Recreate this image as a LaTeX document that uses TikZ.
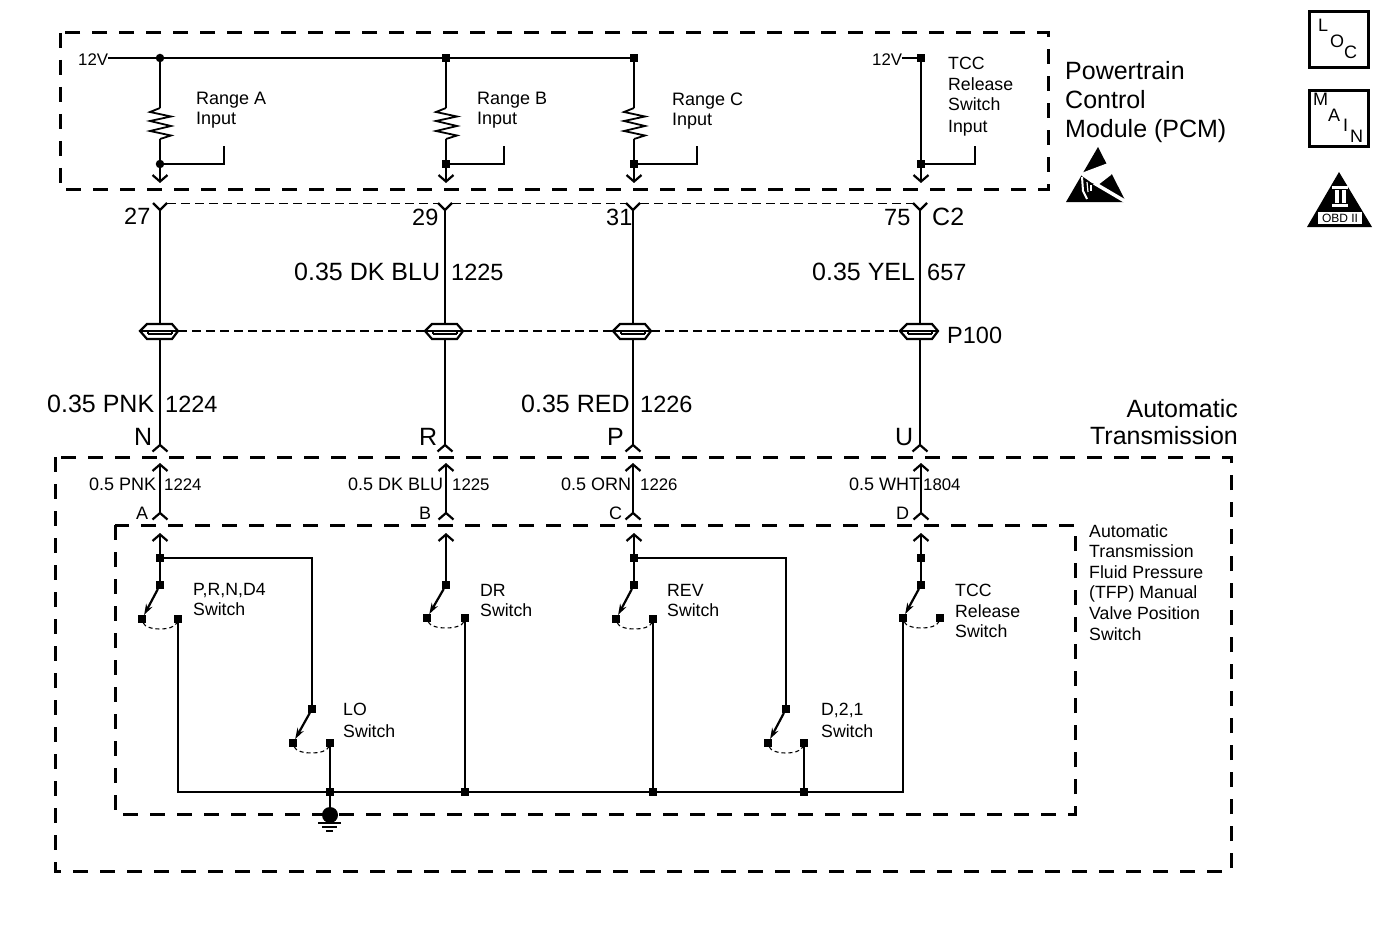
\documentclass[tikz,border=0pt]{standalone}
\usepackage{fontspec}
\setmainfont{Liberation Sans}
\usetikzlibrary{arrows.meta}
\tikzset{
  wire/.style={line width=2.2pt},
  modbox/.style={line width=3pt, dash pattern=on 15pt off 12pt},
  linkdash/.style={line width=1.5pt, dash pattern=on 9pt off 5pt},
  pindash/.style={line width=1pt, dash pattern=on 9pt off 5pt},
  swdash/.style={line width=1.1pt, dash pattern=on 4pt off 3pt},
  dot/.style={fill, rectangle, inner sep=0pt, minimum size=7.5pt},
  rdot/.style={fill, circle, inner sep=0pt, minimum size=8.5pt},
  big/.style={inner sep=0pt, anchor=base west, font=\fontsize{25}{29}\selectfont, align=left},
  numbig/.style={inner sep=0pt, anchor=base west, font=\fontsize{23.5}{29}\selectfont},
  small/.style={inner sep=0pt, anchor=base west, font=\fontsize{18}{20.6}\selectfont, align=left},
  numsmall/.style={inner sep=0pt, anchor=base west, font=\fontsize{16.8}{20.6}\selectfont},
  blok/.style={inner sep=0pt, anchor=north west, font=\fontsize{17.7}{20.6}\selectfont, align=left},
  iconbox/.style={line width=3pt},
  swarrow/.style={wire, -{Stealth[length=11pt, width=7pt]}},
  ytop/.pic={
    \draw [wire] (-7, -7) -- (0, 0) -- (7, -7);
    \coordinate (-l) at (-7, -7);
    \coordinate (-r) at (7, -7);
    \coordinate (-c) at (0, 0);
  },
  npin/.pic={
    \draw [wire] (-7.5, 6.5) -- (0, 0) -- (7.5, 6.5);
    \coordinate (-c) at (0, 0);
  },
  inline/.pic={
    \draw [wire] (-13, -7) -- (12, -7) -- (18, 0) -- (12, 8) -- (-13, 8) -- (-20, 0) -- cycle;
    \draw [wire] (-20, 0) -- (18, 0);
    \draw [wire] (-12, 3) -- (12, 3);
    \draw [wire] (-12, 0) -- (-12, 3);
    \draw [wire] (12, 0) -- (12, 3);
    \coordinate (-t) at (0, -7);
    \coordinate (-b) at (0, 8);
    \coordinate (-l) at (-20, 0);
    \coordinate (-r) at (18, 0);
  },
  resistor/.pic={
    \draw [line width=1.8pt] (0, 0) -- (-10, 4) -- (11, 8.5) -- (-10, 13) -- (11, 18) -- (-10, 23) -- (11, 27.5) -- (0, 31);
    \coordinate (-t) at (0, 0);
    \coordinate (-b) at (0, 31);
  }
}
\begin{document}
\begin{tikzpicture}[x=1pt, y=-1pt, >={Straight Barb[length=6.5pt, width=15pt, line width=2.2pt]}]
    \useasboundingbox (0, 0) rectangle (1380, 936);
    % module outlines
    \draw [modbox] (60, 33) rectangle (1048, 189);
    \draw [modbox] (55, 457) rectangle (1231, 871);
    \draw [modbox] (115, 525) rectangle (1075, 814);
    % PCM supply rail
    \node [numsmall] (v1) at (78, 66) {12V};
    \node [rdot] (ja) at (160, 58) {};
    \node [dot] (jb) at (446, 58) {};
    \node [dot] (jc) at (634, 58) {};
    \draw [wire] (v1.east |- ja) -- (ja);
    \draw [wire] (ja) -- (jb);
    \draw [wire] (jb) -- (jc);
    \node [numsmall] (v2) at (872, 66) {12V};
    \node [dot] (jd) at (921, 58) {};
    \draw [wire] (v2.east |- jd) -- (jd);
    % PCM inputs
    \pic (ra) at (160, 108) {resistor};
    \pic (rb) at (446, 108) {resistor};
    \pic (rc) at (634, 108) {resistor};
    \node [rdot] (ia) at (160, 164) {};
    \node [dot] (ib) at (446, 164) {};
    \node [dot] (ic) at (634, 164) {};
    \node [dot] (id) at (921, 164) {};
    \coordinate (ea) at (224, 146);
    \coordinate (eb) at (504, 146);
    \coordinate (ec) at (697, 146);
    \coordinate (ed) at (975, 146);
    \coordinate (oa) at (160, 183);
    \coordinate (ob) at (446, 183);
    \coordinate (oc) at (634, 183);
    \coordinate (od) at (921, 183);
    \draw [wire] (ja) -- (ra-t);
    \draw [wire] (jb) -- (rb-t);
    \draw [wire] (jc) -- (rc-t);
    \draw [wire] (ra-b) -- (ia);
    \draw [wire] (rb-b) -- (ib);
    \draw [wire] (rc-b) -- (ic);
    \draw [wire] (jd) -- (id);
    \draw [wire] (ia) -| (ea);
    \draw [wire] (ib) -| (eb);
    \draw [wire] (ic) -| (ec);
    \draw [wire] (id) -| (ed);
    \draw [wire, <-] (oa) -- (ia);
    \draw [wire, <-] (ob) -- (ib);
    \draw [wire, <-] (oc) -- (ic);
    \draw [wire, <-] (od) -- (id);
    \node [small] (ta) at (196, 105) {Range A};
    \node [small] (tb) at (477, 105) {Range B};
    \node [small] (tc) at (672, 106) {Range C};
    \node [small] (tai) at (196, 125) {Input};
    \node [small] (tbi) at (477, 125) {Input};
    \node [small] (tci) at (672, 126) {Input};
    \node [blok] (td) at (948, 57) {TCC\\Release\\Switch\\[1pt]Input};
    % C2 terminals
    \pic (c27) at (160, 210) {ytop};
    \pic (c29) at (445, 210) {ytop};
    \pic (c31) at (633, 210) {ytop};
    \pic (c75) at (920, 210) {ytop};
    \draw [pindash] (c27-r) -- (c29-l);
    \draw [pindash] (c29-r) -- (c31-l);
    \draw [pindash] (c31-r) -- (c75-l);
    % P100
    \pic (pa) at (160, 331) {inline};
    \pic (pb) at (445, 331) {inline};
    \pic (pc) at (633, 331) {inline};
    \pic (pd) at (920, 331) {inline};
    \draw [linkdash] (pa-r) -- (pb-l);
    \draw [linkdash] (pb-r) -- (pc-l);
    \draw [linkdash] (pc-r) -- (pd-l);
    \draw [wire] (c27-c) -- (pa-t);
    \draw [wire] (c29-c) -- (pb-t);
    \draw [wire] (c31-c) -- (pc-t);
    \draw [wire] (c75-c) -- (pd-t);
    % transmission connector
    \pic (na) at (160, 445) {npin};
    \pic (nb) at (445, 445) {npin};
    \pic (nc) at (633, 445) {npin};
    \pic (nd) at (920, 445) {npin};
    \draw [wire] (pa-b) -- (na-c);
    \draw [wire] (pb-b) -- (nb-c);
    \draw [wire] (pc-b) -- (nc-c);
    \draw [wire] (pd-b) -- (nd-c);
    \coordinate (ua) at (160, 463);
    \coordinate (ub) at (446, 463);
    \coordinate (uc) at (633, 463);
    \coordinate (ud) at (921, 463);
    \pic (la) at (160, 513) {npin};
    \pic (lb) at (446, 513) {npin};
    \pic (lc) at (633, 513) {npin};
    \pic (ld) at (921, 513) {npin};
    \draw [wire, <-] (ua) -- (la-c);
    \draw [wire, <-] (ub) -- (lb-c);
    \draw [wire, <-] (uc) -- (lc-c);
    \draw [wire, <-] (ud) -- (ld-c);
    % switch block inlets
    \coordinate (sa) at (160, 533);
    \coordinate (sb) at (446, 533);
    \coordinate (sc) at (634, 533);
    \coordinate (sd) at (921, 533);
    \node [dot] (ka) at (160, 558) {};
    \node [dot] (kc) at (634, 558) {};
    \node [dot] (kd) at (921, 558) {};
    \node [dot] (pa1) at (160, 585) {};
    \node [dot] (pb1) at (446, 585) {};
    \node [dot] (pc1) at (634, 585) {};
    \node [dot] (pd1) at (921, 585) {};
    \draw [wire, <-] (sa) -- (ka);
    \draw [wire] (ka) -- (pa1);
    \draw [wire, <-] (sb) -- (pb1);
    \draw [wire, <-] (sc) -- (kc);
    \draw [wire] (kc) -- (pc1);
    \draw [wire, <-] (sd) -- (kd);
    \draw [wire] (kd) -- (pd1);
    % upper switches
    \node [dot] (qa) at (142, 619) {};
    \node [dot] (ra1) at (178, 619) {};
    \node [dot] (qb) at (427, 618) {};
    \node [dot] (rb1) at (465, 618) {};
    \node [dot] (qc) at (616, 619) {};
    \node [dot] (rc1) at (653, 619) {};
    \node [dot] (qd) at (903, 618) {};
    \node [dot] (rd1) at (940, 618) {};
    \draw [swarrow] (pa1) -- (qa);
    \draw [swarrow] (pb1) -- (qb);
    \draw [swarrow] (pc1) -- (qc);
    \draw [swarrow] (pd1) -- (qd);
    \draw [swdash] (qa) .. controls (146, 631) and (174, 631) .. (ra1);
    \draw [swdash] (qb) .. controls (431, 630) and (461, 630) .. (rb1);
    \draw [swdash] (qc) .. controls (620, 631) and (649, 631) .. (rc1);
    \draw [swdash] (qd) .. controls (907, 630) and (936, 630) .. (rd1);
    % lower switches
    \node [dot] (pe) at (312, 709) {};
    \node [dot] (qe) at (293, 743) {};
    \node [dot] (re) at (330, 743) {};
    \node [dot] (pf) at (786, 709) {};
    \node [dot] (qf) at (768, 743) {};
    \node [dot] (rf) at (804, 743) {};
    \draw [wire] (ka) -| (pe);
    \draw [wire] (kc) -| (pf);
    \draw [swarrow] (pe) -- (qe);
    \draw [swarrow] (pf) -- (qf);
    \draw [swdash] (qe) .. controls (297, 755) and (326, 755) .. (re);
    \draw [swdash] (qf) .. controls (772, 755) and (800, 755) .. (rf);
    % ground bus
    \coordinate (ba) at (178, 792);
    \node [dot] (be) at (330, 792) {};
    \node [dot] (bb) at (465, 792) {};
    \node [dot] (bc) at (653, 792) {};
    \node [dot] (bf) at (804, 792) {};
    \coordinate (bd) at (903, 792);
    \draw [wire] (ra1) -- (ba) -- (be) -- (bb) -- (bc) -- (bf) -- (bd) -- (qd);
    \draw [wire] (rb1) -- (bb);
    \draw [wire] (rc1) -- (bc);
    \draw [wire] (re) -- (be);
    \draw [wire] (rf) -- (bf);
    \node [fill, circle, inner sep=0pt, minimum size=16pt] (gnd) at (330, 815) {};
    \draw [wire] (be) -- (gnd);
    \draw [line width=1.3pt] (318, 823) -- (341, 823);
    \draw [line width=1.3pt] (322, 827) -- (337, 827);
    \draw [line width=1.3pt] (326, 831) -- (333, 831);
    % wire labels
    \node [numbig] (l27) at (124, 224) {27};
    \node [numbig] (l29) at (412, 225) {29};
    \node [numbig] (l31) at (606, 225) {31};
    \node [numbig] (l75) at (884, 225) {75};
    \node [big] (lc2) at (932, 225) {C2};
    \node [big] (lblu) at (294, 280) {0.35 DK BLU};
    \node [numbig] (n1225) at (451, 280) {1225};
    \node [big] (lyel) at (812, 280) {0.35 YEL};
    \node [numbig] (n657) at (927, 280) {657};
    \node [numbig] (lp100) at (947, 343) {P100};
    \node [big] (lpnk) at (47, 412) {0.35 PNK};
    \node [numbig] (n1224) at (165, 412) {1224};
    \node [big] (lred) at (521, 412) {0.35 RED};
    \node [numbig] (n1226) at (640, 412) {1226};
    \node [big] (ln) at (134, 445) {N};
    \node [big] (lr) at (419, 445) {R};
    \node [big] (lp) at (607, 445) {P};
    \node [big] (lu) at (895, 445) {U};
    \node [small] (mpnk) at (89, 490) {0.5 PNK};
    \node [numsmall] (m1224) at (164, 490) {1224};
    \node [small] (mblu) at (348, 490) {0.5 DK BLU};
    \node [numsmall] (m1225) at (452, 490) {1225};
    \node [small] (morn) at (561, 490) {0.5 ORN};
    \node [numsmall] (m1226) at (640, 490) {1226};
    \node [small] (mwht) at (849, 490) {0.5 WHT};
    \node [numsmall] (m1804) at (923, 490) {1804};
    \node [small] (la1) at (136, 519) {A};
    \node [small] (lb1) at (419, 519) {B};
    \node [small] (lc1) at (609, 519) {C};
    \node [small] (ld1) at (896, 519) {D};
    % block names
    \node [big] (pcm) at (1065, 138) {Powertrain\\Control\\Module (PCM)};
    \node [big, anchor=base east, align=right] (atm) at (1238, 444) {Automatic\\[-2pt]Transmission};
    \node [blok] (tfp) at (1089, 524) {Automatic\\Transmission\\Fluid Pressure\\(TFP) Manual\\Valve Position\\Switch};
    \node [blok] (swa) at (193, 583) {P,R,N,D4\\Switch};
    \node [blok] (swb) at (480, 584) {DR\\Switch};
    \node [blok] (swc) at (667, 584) {REV\\Switch};
    \node [blok] (swd) at (955, 584) {TCC\\Release\\Switch};
    \node [blok] (swe) at (343, 703) {LO\\[1pt]Switch};
    \node [blok] (swf) at (821, 703) {D,2,1\\[1pt]Switch};
    % LOC and MAIN
    \node [draw, iconbox, minimum width=59pt, minimum height=56pt, inner sep=0pt] (loc) at (1339, 40) {};
    \node [small] (l1) at (1318, 32) {L};
    \node [small] (l2) at (1330, 48) {O};
    \node [small] (l3) at (1344, 59) {C};
    \node [draw, iconbox, minimum width=59pt, minimum height=56pt, inner sep=0pt] (main) at (1339, 119) {};
    \node [small] (m1) at (1313, 106) {M};
    \node [small] (m2) at (1328, 122) {A};
    \node [small] (m3) at (1343, 132) {I};
    \node [small] (m4) at (1350, 143) {N};
    % OBD II
    \fill (1339, 172) -- (1372, 227) -- (1307, 227) -- cycle;
    \fill [white] (1332, 186) rectangle (1348, 189);
    \fill [white] (1332, 204) rectangle (1348, 207);
    \fill [white] (1335, 190) rectangle (1338.5, 203);
    \fill [white] (1342, 190) rectangle (1345.5, 203);
    \node [fill=white, inner sep=0pt, minimum width=44pt, minimum height=12pt, font=\fontsize{12}{12}\selectfont] (obd) at (1340, 218) {OBD II};
    % static warning
    \fill (1098, 147) -- (1126, 202) -- (1066, 202) -- cycle;
    \fill [white] (1080, 173.5) -- (1108, 163) -- (1119, 163) -- (1111, 175) -- (1098, 185) -- (1092, 183) -- (1082, 176) -- cycle;
    \draw [white, line width=3.5pt] (1094, 183) -- (1128, 203);
    \draw [white, line width=2pt] (1082, 177) -- (1083, 191) -- (1087, 199);
    \draw [white, line width=1.2pt] (1087, 182) -- (1088, 192);
    \draw [white, line width=1.2pt] (1091, 185) -- (1091, 191);
  \end{tikzpicture}
\end{document}
